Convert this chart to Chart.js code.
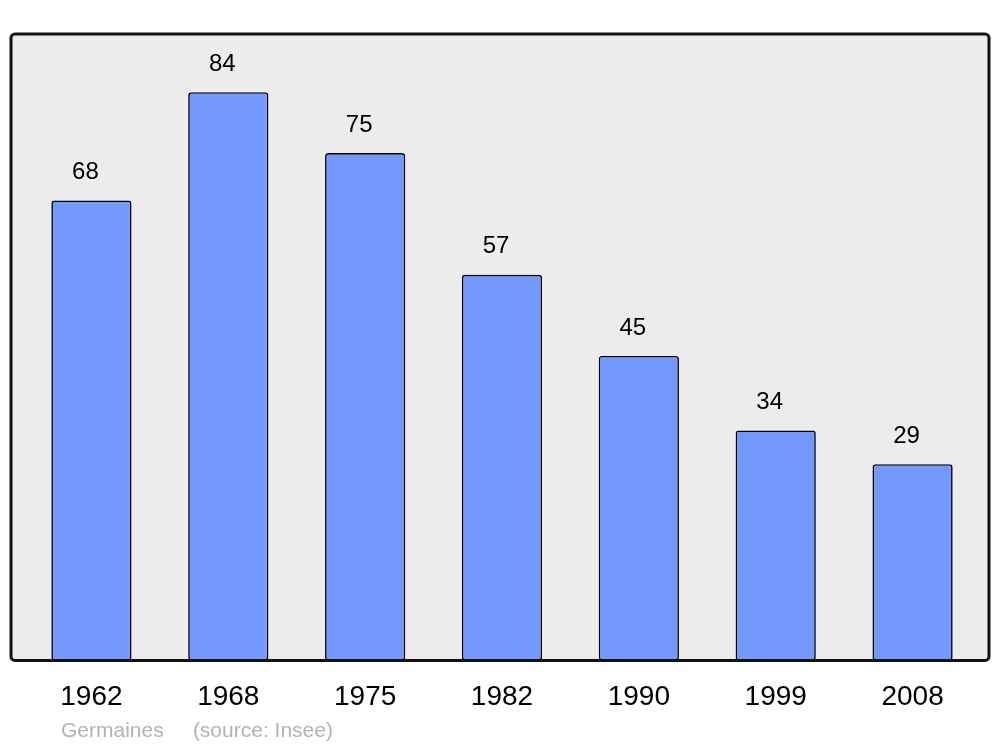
<!DOCTYPE html>
<html>
<head>
<meta charset="utf-8">
<script src="https://cdn.jsdelivr.net/npm/chart.js@4"></script>
<style>
  html, body { margin: 0; padding: 0; background: #fff; }
  #wrap { position: relative; width: 1000px; height: 747px; }
  #note { position: absolute; left: 61px; top: 718px; font: 21px "Liberation Sans", Arial, sans-serif; color: #b3b3b3; white-space: pre; }
</style>
</head>
<body>
<div id="wrap">
  <canvas id="myChart" width="1000" height="747"></canvas>
  <div id="note">Germaines     (source: Insee)</div>
</div>
<script>
// Population by census year
let years = ['1962', '1968', '1975', '1982', '1990', '1999', '2008'];
let population = [68, 84, 75, 57, 45, 34, 29];

// Gray panel with a dark frame, a bit wider than the bar area
const panel = {
  id: 'panel',
  beforeDatasetsDraw(chart) {
    let ctx = chart.ctx;
    let a = chart.chartArea;
    ctx.save();
    ctx.beginPath();
    ctx.roundRect(11, a.top, 978, a.bottom - a.top, 4);
    ctx.fillStyle = '#ececec';
    ctx.fill();
    ctx.restore();
  },
  afterDatasetsDraw(chart) {
    let ctx = chart.ctx;
    let a = chart.chartArea;
    ctx.save();
    ctx.beginPath();
    ctx.roundRect(11, a.top, 978, a.bottom - a.top, 4);
    ctx.lineWidth = 3;
    ctx.strokeStyle = '#111';
    ctx.stroke();
    ctx.restore();
  }
};

// Value written above each bar
const valueLabels = {
  id: 'valueLabels',
  afterDatasetsDraw(chart) {
    let ctx = chart.ctx;
    let meta = chart.getDatasetMeta(0);
    ctx.save();
    ctx.font = '24px "Liberation Sans", Arial, sans-serif';
    ctx.fillStyle = '#000';
    ctx.textAlign = 'center';
    ctx.textBaseline = 'middle';
    meta.data.forEach((bar, i) => {
      ctx.fillText(population[i], bar.x - 6, bar.y - 28);
    });
    ctx.restore();
  }
};

new Chart(document.getElementById('myChart'), {
  type: 'bar',
  data: {
    labels: years,
    datasets: [{
      data: population,
      backgroundColor: '#7399ff',
      borderColor: '#000',
      borderWidth: 1.6,
      borderRadius: 3,
      borderSkipped: false,
      barPercentage: 0.586,
      categoryPercentage: 1
    }]
  },
  options: {
    responsive: false,
    animation: false,
    layout: { padding: { left: 23, right: 19, top: 34, bottom: 21 } },
    plugins: { legend: { display: false }, tooltip: { enabled: false } },
    scales: {
      x: {
        grid: { display: false },
        border: { display: false },
        ticks: {
          color: '#000',
          padding: 12,
          font: { family: '"Liberation Sans", Arial, sans-serif', size: 28 }
        }
      },
      y: {
        min: 0,
        max: 92.6,
        display: false
      }
    }
  },
  plugins: [panel, valueLabels]
});
</script>
</body>
</html>
